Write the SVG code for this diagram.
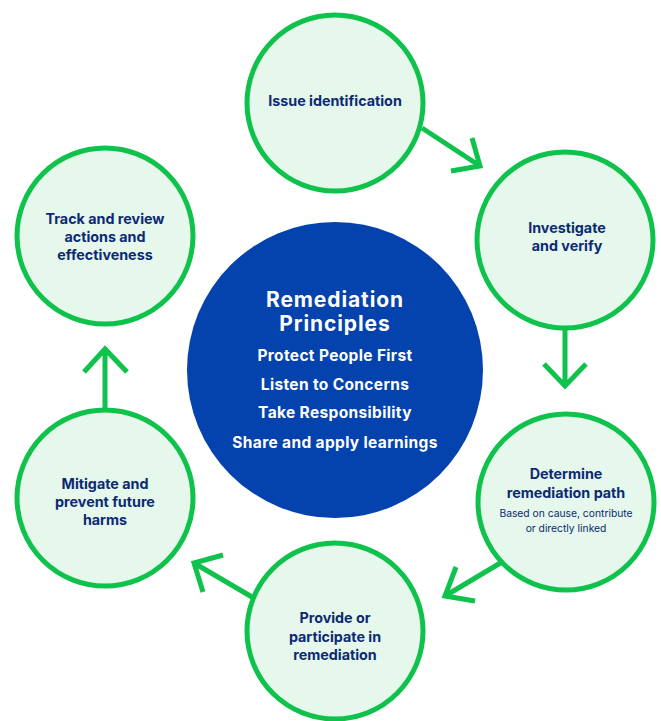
<svg xmlns="http://www.w3.org/2000/svg" width="661" height="721" viewBox="0 0 661 721">
<style>
.node{fill:#e6f7ec;stroke:#0fc24c;stroke-width:5}
.lbl{font-family:Inter,"Noto Sans",sans-serif;font-weight:700;font-size:14.3px;fill:#0b2a72;text-anchor:middle}
.sub{font-family:Inter,"Noto Sans",sans-serif;font-weight:400;font-size:10.3px;fill:#0b2a72;text-anchor:middle}
.conn{fill:none;stroke:#0fc24c;stroke-width:5;stroke-linecap:butt;stroke-linejoin:miter}
.ttl{font-family:Inter,"Noto Sans",sans-serif;font-weight:700;font-size:21px;letter-spacing:0.9px;fill:#ffffff;text-anchor:middle}
.pr{font-family:Inter,"Noto Sans",sans-serif;font-weight:700;font-size:15.5px;letter-spacing:0.35px;fill:#ffffff;text-anchor:middle}
</style>
<rect width="661" height="721" fill="#ffffff"/>
<g id="connectors">
<path class="conn" d="M422,128 L480,166 M472,138 L480,166 L451,171"/>
<path class="conn" d="M565,327 L565,386 M544,364 L565,386 L586,364"/>
<path class="conn" d="M502,562 L445,596 M456,567 L445,596 L475,601"/>
<path class="conn" d="M252,597 L194,563 M223,555 L194,563 L203,592"/>
<path class="conn" d="M105,409 L105,349 M84,372 L105,349 L127,372"/>
</g>
<g id="center">
<circle cx="335" cy="370" r="148" fill="#0443ad"/>
<text class="ttl" x="335" y="307">Remediation</text>
<text class="ttl" x="335" y="331">Principles</text>
<text class="pr" x="335" y="361">Protect People First</text>
<text class="pr" x="335" y="390">Listen to Concerns</text>
<text class="pr" x="335" y="418">Take Responsibility</text>
<text class="pr" x="335" y="448">Share and apply learnings</text>
</g>
<g id="n1">
<circle class="node" cx="335" cy="103" r="88"/>
<text class="lbl" x="335" y="106">Issue identification</text>
</g>
<g id="n2">
<circle class="node" cx="565" cy="240" r="88"/>
<text class="lbl" x="567" y="233">Investigate</text>
<text class="lbl" x="567" y="251">and verify</text>
</g>
<g id="n3">
<circle class="node" cx="566" cy="502" r="88"/>
<text class="lbl" x="566" y="479">Determine</text>
<text class="lbl" x="566" y="498">remediation path</text>
<text class="sub" x="566" y="517">Based on cause, contribute</text>
<text class="sub" x="566" y="532">or directly linked</text>
</g>
<g id="n4">
<circle class="node" cx="335" cy="631" r="88"/>
<text class="lbl" x="335" y="623">Provide or</text>
<text class="lbl" x="335" y="642">participate in</text>
<text class="lbl" x="335" y="660">remediation</text>
</g>
<g id="n5">
<circle class="node" cx="105" cy="498" r="88"/>
<text class="lbl" x="105" y="489">Mitigate and</text>
<text class="lbl" x="105" y="507">prevent future</text>
<text class="lbl" x="105" y="525">harms</text>
</g>
<g id="n6">
<circle class="node" cx="105" cy="236" r="88"/>
<text class="lbl" x="105" y="224">Track and review</text>
<text class="lbl" x="105" y="242">actions and</text>
<text class="lbl" x="105" y="260">effectiveness</text>
</g>
</svg>
